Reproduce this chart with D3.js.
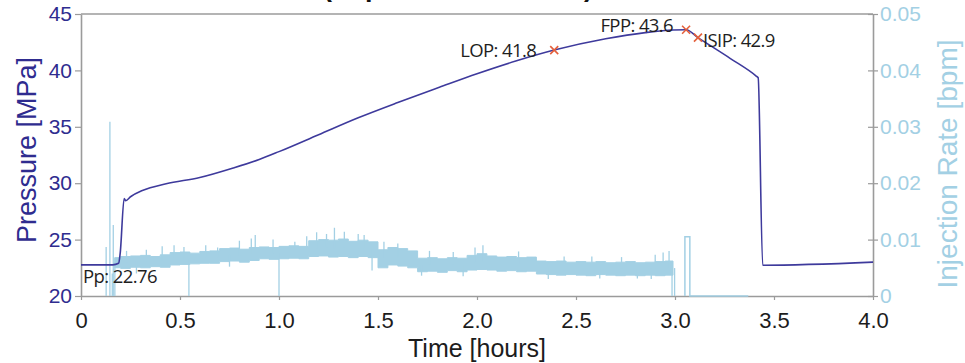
<!DOCTYPE html>
<html>
<head>
<meta charset="utf-8">
<script src="https://cdn.jsdelivr.net/npm/d3@7"></script>
<style>
	body { margin: 0; background: #fff; }
	svg { display: block; font-family: 'Liberation Sans', Arial, sans-serif; }
</style>
</head>
<body>
<svg id="chart"></svg>
<script>
// Pressure curve [hours, MPa]
const pressureTime = [ 0, 0.16, 0.19, 0.198, 0.218, 0.226, 0.25, 0.31, 0.43, 0.6, 0.77, 0.9, 1.0, 1.2, 1.4, 1.6, 1.81, 2.0, 2.2, 2.39, 2.65, 2.85, 2.99, 3.056, 3.116, 3.28, 3.41, 3.42, 3.443, 4.0 ];
const pressureValue = [ 22.76, 22.76, 22.9, 23.8, 28.65, 28.45, 28.8, 29.35, 29.95, 30.5, 31.35, 32.1, 32.8, 34.3, 35.8, 37.15, 38.5, 39.7, 40.85, 41.8, 42.8, 43.35, 43.58, 43.6, 42.9, 41.05, 39.5, 39.35, 22.72, 23.0 ];

// Picked points
const markerLabel = [ 'LOP: 41.8', 'FPP: 43.6', 'ISIP: 42.9' ];
const markerTime = [ 2.39, 3.056, 3.116 ];
const markerValue = [ 41.8, 43.6, 42.9 ];
const porePressure = 22.76;

// Injection rate, noisy band [hours, bpm]
const rateBandTime = [ 0.17, 0.20, 0.25, 0.30, 0.35, 0.40, 0.45, 0.50, 0.55, 0.60, 0.65, 0.70, 0.75, 0.80, 0.85, 0.90, 0.95, 1.00, 1.05, 1.10, 1.15, 1.20, 1.25, 1.30, 1.35, 1.40, 1.45, 1.50, 1.55, 1.60, 1.65, 1.70, 1.75, 1.80, 1.85, 1.90, 1.95, 2.00, 2.05, 2.10, 2.15, 2.20, 2.25, 2.30, 2.35, 2.40, 2.45, 2.50, 2.55, 2.60, 2.65, 2.70, 2.75, 2.80, 2.85, 2.90, 2.95, 2.99 ];
const rateBandHigh = [ .0068, .0070, .0071, .0072, .0070, .0073, .0077, .0078, .0076, .0079, .0080, .0084, .0085, .0083, .0086, .0087, .0086, .0088, .0089, .0088, .0098, .0100, .0099, .0101, .0097, .0099, .0096, .0082, .0086, .0084, .0080, .0067, .0068, .0066, .0068, .0067, .0072, .0075, .0071, .0069, .0070, .0068, .0069, .0062, .0061, .0062, .0060, .0061, .0060, .0061, .0059, .0060, .0061, .0059, .0060, .0061, .0062, .0062 ];
const rateBandLow = [ .0050, .0049, .0051, .0050, .0052, .0051, .0055, .0056, .0057, .0058, .0058, .0061, .0062, .0060, .0063, .0066, .0065, .0066, .0067, .0066, .0070, .0071, .0069, .0070, .0068, .0070, .0068, .0050, .0055, .0053, .0050, .0043, .0044, .0042, .0045, .0043, .0046, .0047, .0046, .0044, .0045, .0043, .0044, .0039, .0038, .0037, .0038, .0037, .0036, .0038, .0037, .0036, .0037, .0036, .0037, .0036, .0037, .0037 ];

// Single spikes off the band
const rateSpikeTime = [ 0.127, 0.146, 0.158, 0.163, 0.171, 0.23, 0.28, 0.33, 0.41, 0.47, 0.52, 0.545, 0.63, 0.69, 0.75, 0.80, 0.86, 0.88, 0.97, 1.0, 1.08, 1.14, 1.19, 1.24, 1.28, 1.33, 1.40, 1.43, 1.47, 1.53, 1.60, 1.72, 1.76, 1.88, 1.93, 1.99, 2.03, 2.21, 2.36, 2.44, 2.58, 2.62, 2.73, 2.81, 2.88, 2.90, 2.94, 2.97, 2.985, 2.998 ];
const rateSpikeValue = [ .0087, .0309, .0040, .0126, 0, .0080, .0040, .0082, .0088, .0090, .0087, 0, .0090, .0086, .0052, .0098, .0102, .0108, .0100, 0, .0096, .0106, .0113, .0110, .0121, .0114, .0110, .0108, .0045, .0096, .0093, .0036, .0080, .0078, .0035, .0086, .0090, .0079, .0030, .0070, .0070, .0031, .0069, .0031, .0030, .0073, .0077, .0080, 0, 0 ];

// Short pulse after shut-in
const ratePulseTime = [ 3.05, 3.05, 3.075, 3.075, 3.37 ];
const ratePulseValue = [ 0, .0105, .0105, 0, 0 ];

const timeTicks = [ 0, 0.5, 1.0, 1.5, 2.0, 2.5, 3.0, 3.5, 4.0 ];
const pressureTicks = [ 20, 25, 30, 35, 40, 45 ];
const rateTicks = [ 0, 0.01, 0.02, 0.03, 0.04, 0.05 ];

// label placement relative to its marker (px)
const labelOffsets = [ { dx: -18, dy: 7, anchor: 'end' }, { dx: -13, dy: 2, anchor: 'end' }, { dx: 5, dy: 9, anchor: 'start' } ];

const W = 965;
const H = 363;
const margin = { top: 14, right: 92, bottom: 67, left: 81 };
const innerW = W - margin.left - margin.right;
const innerH = H - margin.top - margin.bottom;

const navy = '#2f2c8f';
const lineNavy = '#3e3a9c';
const lightBlue = '#a3d0e4';
const grey = '#9b9b9b';

const svg = d3.select( '#chart' ).attr( 'width', W ).attr( 'height', H );

// Title, mostly above the visible area
svg.append( 'text' )
	.attr( 'x', 458 )
	.attr( 'y', -4 )
	.attr( 'text-anchor', 'middle' )
	.style( 'font-size', '27px' )
	.style( 'font-weight', 'bold' )
	.attr( 'fill', '#111' )
	.text( '(Experiment Results)' );

const g = svg.append( 'g' ).attr( 'transform', `translate(${ margin.left },${ margin.top })` );

const x = d3.scaleLinear().domain( [ 0, 4 ] ).range( [ 0, innerW ] );
const yP = d3.scaleLinear().domain( [ 20, 45 ] ).range( [ innerH, 0 ] );
const yR = d3.scaleLinear().domain( [ 0, 0.05 ] ).range( [ innerH, 0 ] );

// Axes
const xAxis = g.append( 'g' )
	.attr( 'transform', `translate(0,${ innerH })` )
	.call( d3.axisBottom( x ).tickValues( timeTicks ).tickFormat( ( d ) => d === 0 ? '0' : d.toFixed( 1 ) ).tickSizeInner( 4 ).tickSizeOuter( 0 ).tickPadding( 12 ) );
xAxis.selectAll( 'text' ).style( 'font-size', '22px' ).attr( 'fill', '#1c1c1c' );

const leftAxis = g.append( 'g' )
	.call( d3.axisLeft( yP ).tickValues( pressureTicks ).tickSizeInner( 6 ).tickSizeOuter( 0 ).tickPadding( 3 ) );
leftAxis.selectAll( 'text' ).style( 'font-size', '21px' ).attr( 'fill', navy );

const rightAxis = g.append( 'g' )
	.attr( 'transform', `translate(${ innerW },0)` )
	.call( d3.axisRight( yR ).tickValues( rateTicks ).tickFormat( ( d ) => d === 0 ? '0' : d.toFixed( 2 ) ).tickSizeInner( 5 ).tickSizeOuter( 0 ).tickPadding( 2 ) );
rightAxis.selectAll( '.tick line' ).attr( 'x1', -5 );
rightAxis.selectAll( 'text' ).style( 'font-size', '21px' ).attr( 'fill', lightBlue );

[ xAxis, leftAxis, rightAxis ].forEach( ( a ) => {
	a.select( '.domain' ).attr( 'stroke', grey ).attr( 'stroke-width', 1.6 );
	a.selectAll( '.tick line' ).attr( 'stroke', grey ).attr( 'stroke-width', 1.2 );
} );

g.append( 'line' )
	.attr( 'x1', 0 ).attr( 'x2', innerW )
	.attr( 'y1', 0 ).attr( 'y2', 0 )
	.attr( 'stroke', grey ).attr( 'stroke-width', 1.6 );

// Axis titles
svg.append( 'text' )
	.attr( 'transform', 'translate(36,150) rotate(-90)' )
	.attr( 'text-anchor', 'middle' )
	.style( 'font-size', '27px' )
	.attr( 'fill', navy )
	.text( 'Pressure [MPa]' );

svg.append( 'text' )
	.attr( 'transform', 'translate(957,164) rotate(-90)' )
	.attr( 'text-anchor', 'middle' )
	.style( 'font-size', '28px' )
	.attr( 'fill', lightBlue )
	.text( 'Injection Rate [bpm]' );

svg.append( 'text' )
	.attr( 'x', margin.left + innerW / 2 )
	.attr( 'y', 357 )
	.attr( 'text-anchor', 'middle' )
	.style( 'font-size', '25px' )
	.attr( 'fill', '#1c1c1c' )
	.text( 'Time [hours]' );

// Injection rate band
const band = rateBandTime.map( ( t, i ) => ( { t, hi: rateBandHigh[ i ], lo: rateBandLow[ i ] } ) );
const area = d3.area()
	.curve( d3.curveStepAfter )
	.x( ( d ) => x( d.t ) )
	.y0( ( d ) => yR( d.lo ) )
	.y1( ( d ) => yR( d.hi ) );

g.append( 'path' )
	.datum( band )
	.attr( 'd', area )
	.attr( 'fill', lightBlue )
	.attr( 'stroke', lightBlue )
	.attr( 'stroke-width', 1 );

const bandMid = ( t ) => {
	if ( t < rateBandTime[ 0 ] ) {
		return 0;
	}
	const i = Math.min( d3.bisectRight( rateBandTime, t ) - 1, rateBandTime.length - 1 );
	return ( rateBandHigh[ i ] + rateBandLow[ i ] ) / 2;
};

g.selectAll( '.spike' )
	.data( rateSpikeTime )
	.enter()
	.append( 'line' )
	.attr( 'class', 'spike' )
	.attr( 'x1', ( d ) => x( d ) )
	.attr( 'x2', ( d ) => x( d ) )
	.attr( 'y1', ( d ) => yR( bandMid( d ) ) )
	.attr( 'y2', ( d, i ) => yR( rateSpikeValue[ i ] ) )
	.attr( 'stroke', lightBlue )
	.attr( 'stroke-width', 1.3 );

const rateLine = d3.line()
	.x( ( d ) => x( d[ 0 ] ) )
	.y( ( d ) => yR( d[ 1 ] ) );

g.append( 'path' )
	.datum( ratePulseTime.map( ( t, i ) => [ t, ratePulseValue[ i ] ] ) )
	.attr( 'd', rateLine )
	.attr( 'fill', 'none' )
	.attr( 'stroke', lightBlue )
	.attr( 'stroke-width', 1.5 );

// Pressure
const pressureLine = d3.line()
	.curve( d3.curveMonotoneX )
	.x( ( d ) => x( d[ 0 ] ) )
	.y( ( d ) => yP( d[ 1 ] ) );

g.append( 'path' )
	.datum( pressureTime.map( ( t, i ) => [ t, pressureValue[ i ] ] ) )
	.attr( 'd', pressureLine )
	.attr( 'fill', 'none' )
	.attr( 'stroke', lineNavy )
	.attr( 'stroke-width', 1.6 );

// Markers and labels
const marks = g.selectAll( '.mark' )
	.data( markerTime )
	.enter()
	.append( 'g' )
	.attr( 'class', 'mark' )
	.attr( 'transform', ( d, i ) => `translate(${ x( d ) },${ yP( markerValue[ i ] ) })` );

marks.append( 'path' )
	.attr( 'd', 'M-4,-4L4,4M-4,4L4,-4' )
	.attr( 'stroke', '#e4603c' )
	.attr( 'stroke-width', 1.6 );

marks.append( 'text' )
	.attr( 'x', ( d, i ) => labelOffsets[ i ].dx )
	.attr( 'y', ( d, i ) => labelOffsets[ i ].dy )
	.attr( 'text-anchor', ( d, i ) => labelOffsets[ i ].anchor )
	.style( 'font-family', "'Open Sans', sans-serif" )
	.style( 'font-size', '18.5px' )
	.style( 'letter-spacing', '-0.6px' )
	.attr( 'fill', '#1e1e1e' )
	.text( ( d, i ) => markerLabel[ i ] );

g.append( 'text' )
	.attr( 'x', x( 0 ) + 2 )
	.attr( 'y', yP( porePressure ) + 18 )
	.style( 'font-family', "'Open Sans', sans-serif" )
	.style( 'font-size', '18.5px' )
	.style( 'letter-spacing', '-0.6px' )
	.attr( 'fill', '#1e1e1e' )
	.text( `Pp: ${ porePressure }` );
</script>
</body>
</html>
